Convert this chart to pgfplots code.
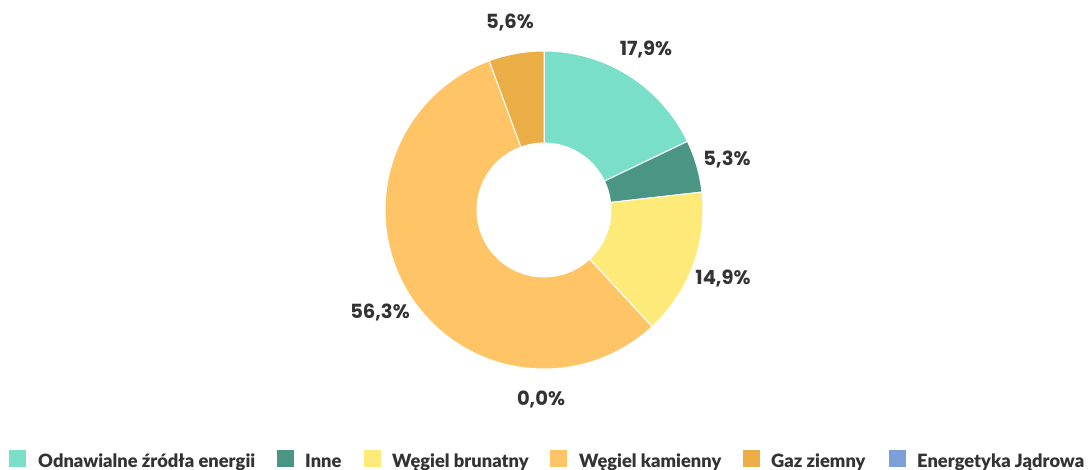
\documentclass[border=0pt]{standalone}
\usepackage{pgfplots}
\pgfplotsset{compat=1.18}
\usepackage{fontspec}
\setmainfont{Lato}[BoldFont={Lato Black}]
\newfontfamily\lblfont{Poppins}
\definecolor{cA}{HTML}{79DFC8}
\definecolor{cB}{HTML}{4A9583}
\definecolor{cC}{HTML}{FEEA78}
\definecolor{cD}{HTML}{FEC465}
\definecolor{cE}{HTML}{EBAD45}
\definecolor{cF}{HTML}{7B9FD6}
\definecolor{txt}{HTML}{333333}
\begin{document}
\begin{tikzpicture}
\useasboundingbox (0,0) rectangle (1088bp,470bp);
\begin{axis}[at={(0,0)}, anchor=origin, x=1bp, y=1bp,
  xmin=0, xmax=1088, ymin=0, ymax=470, hide axis, clip=false]
\pgfplotsextra{
  \gdef\cum{0}
  \foreach \v/\col in {17.9/cA,5.3/cB,14.9/cC,56.3/cD,5.6/cE,0.0/cF}{
    \pgfmathsetmacro\aA{90-3.6*\cum}
    \pgfmathsetmacro\aB{90-3.6*(\cum+\v)}
    \filldraw[fill=\col, draw=white, line width=1bp, line join=round]
      (axis cs:544,260) ++(\aA:159bp) arc[start angle=\aA, end angle=\aB, radius=159bp]
      -- ++(\aB:-92bp) arc[start angle=\aB, end angle=\aA, radius=67bp] -- cycle;
    \pgfmathsetmacro\newcum{\cum+\v}
    \global\let\cum\newcum
  }
}
\tikzset{lbl/.style={inner sep=0pt, text=txt, font=\lblfont\bfseries\fontsize{19.5bp}{21bp}\selectfont},
         leg/.style={inner sep=0pt, anchor=base west, text=txt, font=\bfseries\fontsize{18.3bp}{20bp}\selectfont}}
\node[lbl] at (axis cs:646,421) {17,9\%};
\node[lbl] at (axis cs:727,311) {5,3\%};
\node[lbl] at (axis cs:723,192) {14,9\%};
\node[lbl] at (axis cs:380,158) {56,3\%};
\node[lbl] at (axis cs:541,71) {0,0\%};
\node[lbl] at (axis cs:510,448) {5,6\%};
% legend
\fill[cA] (axis cs:9,3) rectangle (axis cs:26,20);
\node[leg] at (axis cs:38,2) {Odnawialne źródła energii};
\fill[cB] (axis cs:277,3) rectangle (axis cs:294,20);
\node[leg] at (axis cs:305,2) {Inne};
\fill[cC] (axis cs:364,3) rectangle (axis cs:381,20);
\node[leg] at (axis cs:392,2) {Węgiel brunatny};
\fill[cD] (axis cs:550,3) rectangle (axis cs:567,20);
\node[leg] at (axis cs:579,2) {Węgiel kamienny};
\fill[cE] (axis cs:743,3) rectangle (axis cs:760,20);
\node[leg] at (axis cs:771,2) {Gaz ziemny};
\fill[cF] (axis cs:889,3) rectangle (axis cs:906,20);
\node[leg] at (axis cs:917,2) {Energetyka Jądrowa};
\end{axis}
\end{tikzpicture}
\end{document}
